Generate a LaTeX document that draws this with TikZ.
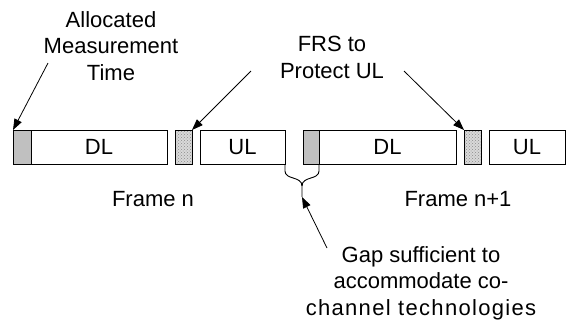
\documentclass[tikz,border=0pt]{standalone}
\usepackage{fontspec}
\setmainfont{Liberation Sans}
\usetikzlibrary{arrows.meta,patterns}
\begin{document}
\begin{tikzpicture}[x=1pt,y=-1pt,
  font=\fontsize{22}{26.5}\selectfont,
  box/.style={draw=black, line width=0.9pt, minimum height=34pt, inner sep=0pt, outer sep=0pt, anchor=west},
  greybox/.style={box, fill={rgb,255:red,192;green,192;blue,192}},
  dotbox/.style={box, preaction={fill=gray!30}, pattern=crosshatch dots, pattern color=gray!90},
  lbl/.style={inner sep=0pt, align=center},
  arr/.style={line width=0.8pt, -{Triangle[length=11pt,width=8pt]}},
  bracestyle/.style={line width=0.9pt}]
\useasboundingbox (0,0) rectangle (566,322);
% frame blocks
\node[greybox, minimum width=18pt] (grey1) at (13,147) {};
\node[box, minimum width=136pt] (dl1) at (31,147) {DL};
\node[dotbox, minimum width=17pt] (dot1) at (175,147) {};
\node[box, minimum width=85pt] (ul1) at (200,147) {UL};
\node[greybox, minimum width=16pt] (grey2) at (303,147) {};
\node[box, minimum width=137pt] (dl2) at (319,147) {DL};
\node[dotbox, minimum width=17pt] (dot2) at (464,147) {};
\node[box, minimum width=76pt] (ul2) at (489,147) {UL};
% labels
\node[lbl, anchor=north] (alloc) at (111,11) {Allocated\\Measurement\\Time};
\node[lbl, anchor=north] (frs) at (332,36) {FRS to\\Protect UL};
\node[lbl, anchor=base] (framen) at (153,206) {Frame n};
\node[lbl, anchor=base] (framen1) at (458,206) {Frame n+1};
\node[lbl, anchor=north] (gap) at (421,246) {Gap sufficient to\\accommodate co-\\{\addfontfeature{LetterSpace=6}channel technologies}};
% brace
\coordinate (gaptip) at (302,197);
\draw[bracestyle] (ul1.south east) -- ++(0,7) .. controls +(0,9) and (302,176) .. (302,186) -- (gaptip);
\draw[bracestyle] (grey2.south east) -- ++(0,7) .. controls +(0,9) and (302,176) .. (302,186);
% arrows
\coordinate (allocTail) at (48,63);
\coordinate (frsTailL) at (251,71);
\coordinate (frsTailR) at (404,71);
\coordinate (gapTail) at (327,248);
\draw[arr] (allocTail) -- (grey1.north west);
\draw[arr] (frsTailL) -- (dot1.north east);
\draw[arr] (frsTailR) -- (dot2.north west);
\draw[arr] (gapTail) -- (gaptip);
\end{tikzpicture}
\end{document}
